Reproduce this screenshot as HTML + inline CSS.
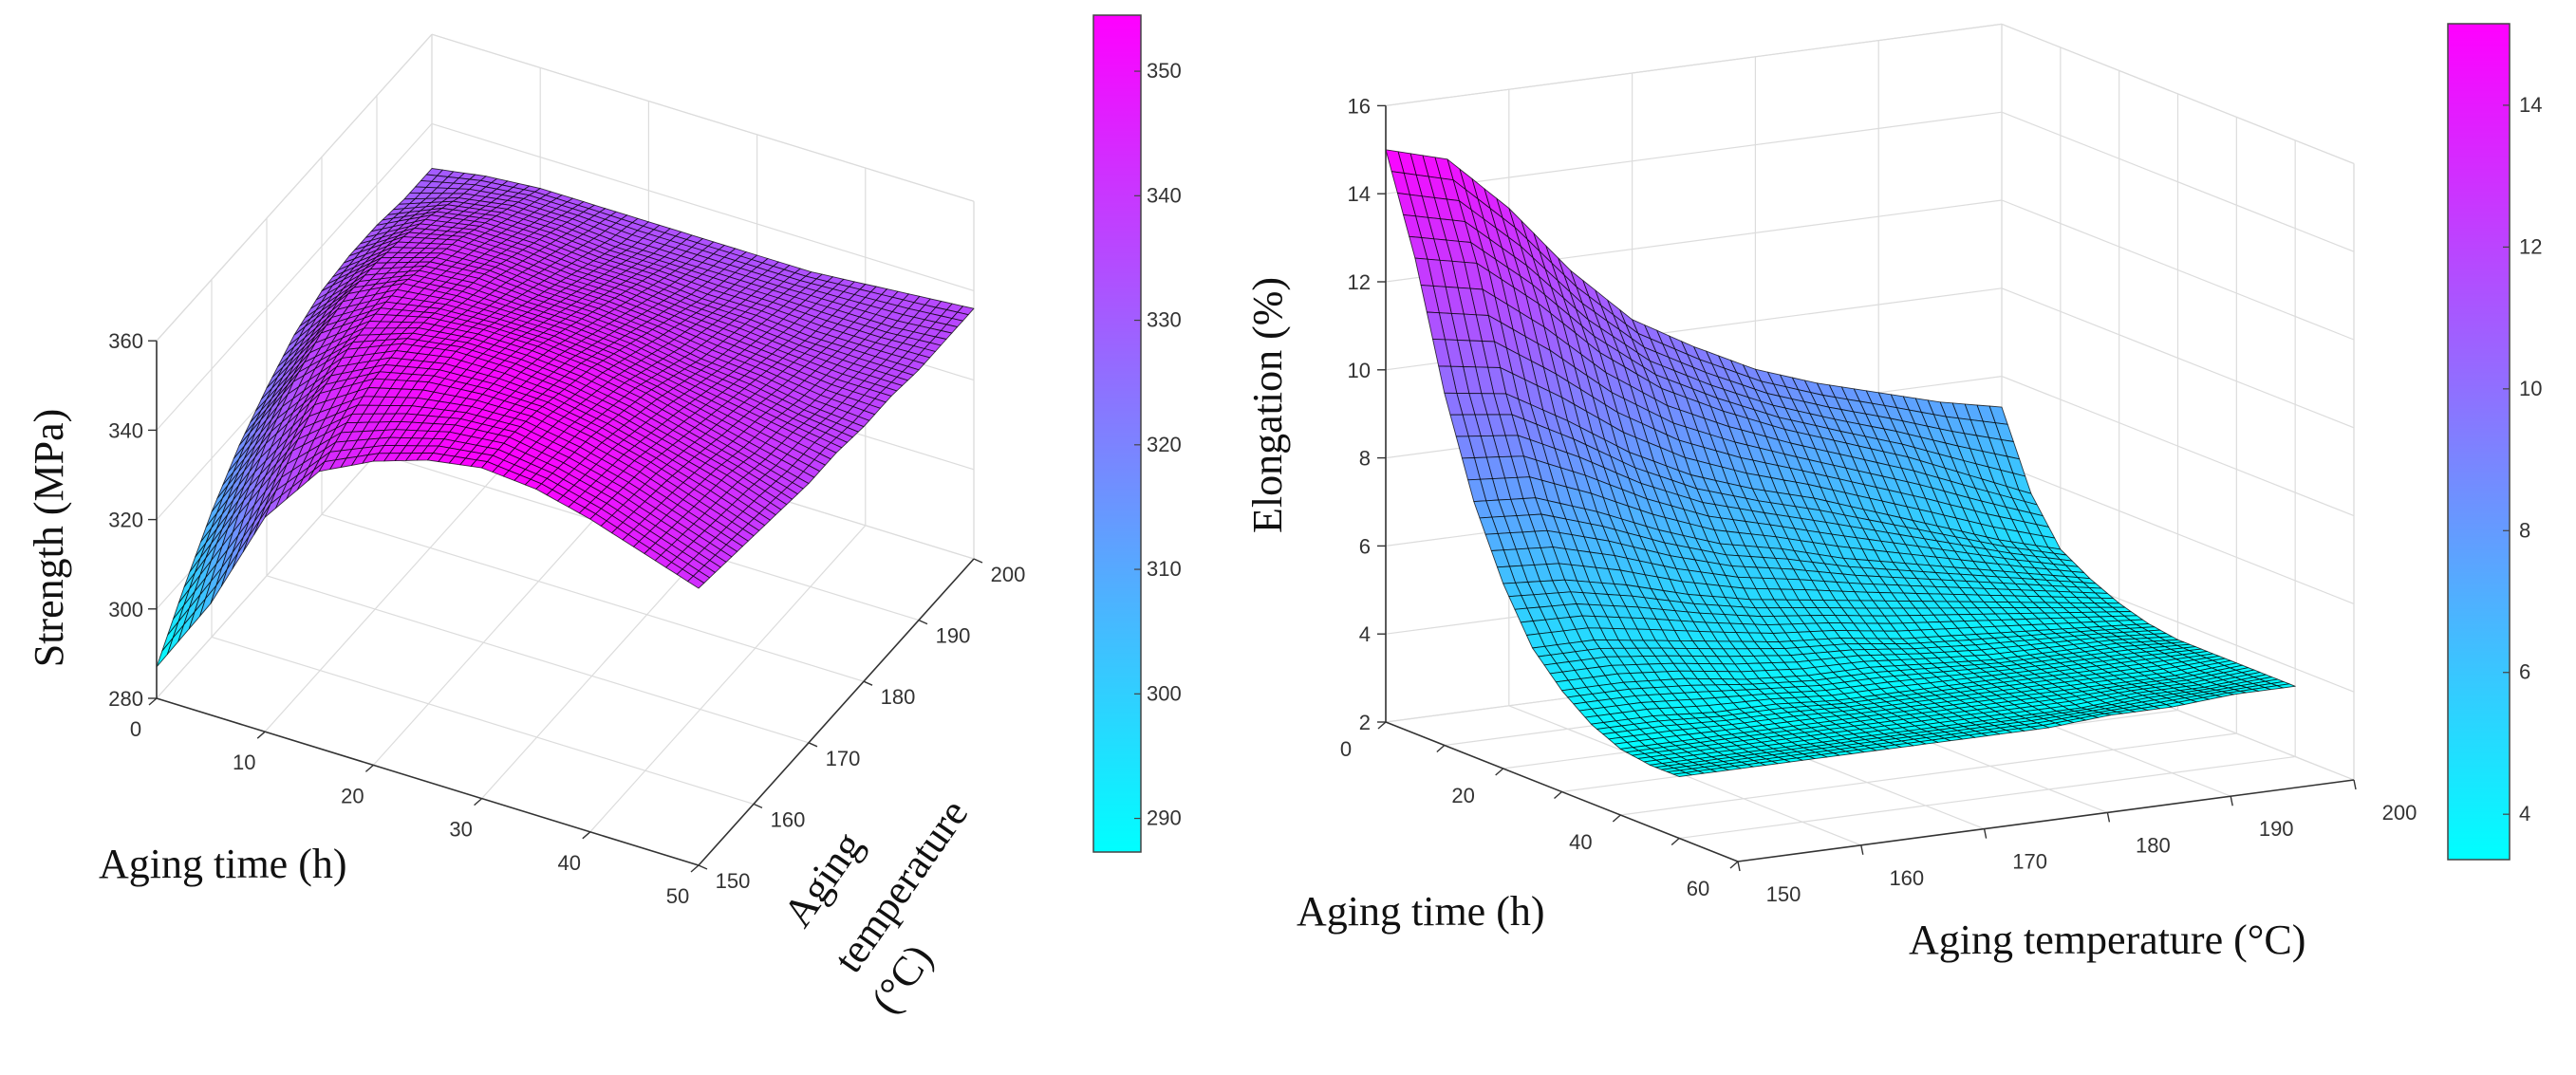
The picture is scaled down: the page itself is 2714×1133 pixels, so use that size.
<!DOCTYPE html>
<html><head><meta charset="utf-8"><style>
html,body{margin:0;padding:0;background:#fff}
svg{display:block}
.tick{font-family:"Liberation Sans",sans-serif;font-size:22px;fill:#333}
.title{font-family:"Liberation Serif",serif;font-size:44px;fill:#111}
</style></head><body>
<svg id="fig" width="2714" height="1133" viewBox="0 0 2714 1133" xmlns="http://www.w3.org/2000/svg">
<rect width="2714" height="1133" fill="#fff"/>
<g id="left"></g>
<g id="right"></g>
</svg>
<script>
// ---- Left chart data: strength (MPa), rows = temperature, cols = time
const leftTime = [0,5,10,15,20,25,30,35,40,45,50];
const leftTemp = [150,155,160,165,170,175,180,185,190,195,200];
const leftStrength = [
 [287,305,328,342,348,352,354,353,350,346,342],
 [298,318,336,346,350,353,354,352,349,345,341],
 [308,327,342,349,352,353,353,351,348,344,340],
 [316,334,345,350,352,352,351,349,346,343,339],
 [322,338,346,349,350,350,349,347,344,341,338],
 [327,340,346,347,347,347,346,344,342,340,338],
 [330,340,344,345,344,344,343,341,340,338,337],
 [331,339,342,342,341,341,340,339,338,337,337],
 [331,337,339,339,338,338,337,337,336,336,336],
 [330,334,336,336,335,335,335,335,335,335,336],
 [330,332,333,333,333,333,333,333,334,335,336]
];
const leftZTicks = [280,300,320,340,360];
const leftTimeTicks = [0,10,20,30,40,50];
const leftTempTicks = [150,160,170,180,190,200];
const leftCbTicks = [290,300,310,320,330,340,350];
const leftCRange = [287.3,354.5];

// ---- Right chart data: elongation (%), rows = temperature, cols = time
const rightTime = [0,5,10,15,20,25,30,35,40,45,50];
const rightTemp = [150,155,160,165,170,175,180,185,190,195,200];
const rightElong = [
 [15.0,12.8,10.0,7.8,6.2,5.0,4.3,3.8,3.5,3.4,3.4],
 [14.6,12.5,9.8,7.7,6.1,5.0,4.3,3.8,3.5,3.4,3.4],
 [13.3,11.4,9.0,7.2,5.8,4.8,4.2,3.7,3.5,3.4,3.4],
 [11.7,10.1,8.1,6.6,5.4,4.6,4.0,3.7,3.5,3.4,3.4],
 [10.4,9.1,7.4,6.1,5.1,4.4,3.9,3.6,3.5,3.4,3.4],
 [9.6,8.4,6.9,5.8,4.9,4.3,3.9,3.6,3.5,3.4,3.4],
 [8.9,7.8,6.5,5.4,4.7,4.1,3.8,3.6,3.5,3.4,3.4],
 [8.4,7.3,6.0,5.1,4.5,4.0,3.7,3.6,3.5,3.4,3.5],
 [8.0,6.8,5.5,4.8,4.3,3.9,3.7,3.6,3.5,3.5,3.5],
 [7.6,6.2,5.0,4.5,4.1,3.8,3.7,3.6,3.5,3.5,3.6],
 [7.3,5.6,4.6,4.2,3.9,3.7,3.6,3.6,3.6,3.6,3.6]
];
const rightZTicks = [2,4,6,8,10,12,14,16];
const rightTimeTicks = [0,10,20,30,40,50,60];
const rightTimeLabels = [0,20,40,60];
const rightTempTicks = [150,160,170,180,190,200];
const rightCbTicks = [4,6,8,10,12,14];
const rightCRange = [3.36,15.15];

const NS = "http://www.w3.org/2000/svg";
function mk(parent, tag, attrs){
  const e = document.createElementNS(NS, tag);
  for (const k in attrs) e.setAttribute(k, attrs[k]);
  parent.appendChild(e);
  return e;
}
function cool(v, lo, hi){
  let f = (v - lo) / (hi - lo); f = Math.max(0, Math.min(1, f));
  return `rgb(${Math.round(255*f)},${Math.round(255*(1-f))},255)`;
}

function buildChart(g, cfg){
  const P = cfg.proj;
  const [t0,t1] = cfg.tRange, [T0,T1] = cfg.TRange, [z0,z1] = cfg.zRange;
  const grid = "#dcdcdc";
  function line(a,b,stroke,w,name){
    const l = mk(g,'line',{x1:a[0],y1:a[1],x2:b[0],y2:b[1],stroke:stroke,'stroke-width':w});
    
    
    return l;
  }
  for (const T of cfg.TTicks){
    line(P(t0,T,z0),P(t0,T,z1),grid,1.2,'grid-line');
    line(P(t0,T,z0),P(t1,T,z0),grid,1.2,'grid-line');
  }
  for (const t of cfg.tTicks){
    line(P(t,T1,z0),P(t,T1,z1),grid,1.2,'grid-line');
    line(P(t,T0,z0),P(t,T1,z0),grid,1.2,'grid-line');
  }
  for (const z of cfg.zTicks){
    line(P(t0,T0,z),P(t0,T1,z),grid,1.2,'grid-line');
    line(P(t0,T1,z),P(t1,T1,z),grid,1.2,'grid-line');
  }
  line(P(t0,T0,z1),P(t0,T1,z1),grid,1.2,'box-edge');
  line(P(t0,T1,z1),P(t1,T1,z1),grid,1.2,'box-edge');
  line(P(t1,T1,z0),P(t1,T1,z1),grid,1.2,'box-edge');

  const times = cfg.times, temps = cfg.temps, vals = cfg.vals, sub = 5;
  function V(i,j,u,v){
    const a=vals[i][j], b=vals[i][j+1], c=vals[i+1][j], d=vals[i+1][j+1];
    return a*(1-u)*(1-v)+b*u*(1-v)+c*(1-u)*v+d*u*v;
  }
  const cells = [];
  for (let i=0;i<temps.length-1;i++) for (let j=0;j<times.length-1;j++){
    for (let a=0;a<sub;a++) for (let b=0;b<sub;b++){
      const us=[b/sub,(b+1)/sub], vs=[a/sub,(a+1)/sub];
      const corners=[[us[0],vs[0]],[us[1],vs[0]],[us[1],vs[1]],[us[0],vs[1]]];
      let sum=0, pts=[];
      for (const [u,v] of corners){
        const t = times[j]+(times[j+1]-times[j])*u;
        const T = temps[i]+(temps[i+1]-temps[i])*v;
        const z = V(i,j,u,v); sum += z;
        pts.push(P(t,T,z));
      }
      const tc = times[j]+(times[j+1]-times[j])*(b+0.5)/sub;
      const Tc = temps[i]+(temps[i+1]-temps[i])*(a+0.5)/sub;
      cells.push({pts, val:sum/4, depth:P(tc,Tc,z0)[1]});
    }
  }
  cells.sort((p,q)=>p.depth-q.depth);
  const sg = mk(g,'g',{});
  
  
  for (const c of cells){
    const poly = mk(sg,'polygon',{points:c.pts.map(p=>p[0].toFixed(1)+','+p[1].toFixed(1)).join(' '),
      fill:cool(c.val,cfg.cRange[0],cfg.cRange[1]),stroke:'#000','stroke-width':0.9,'stroke-opacity':0.75,'stroke-linejoin':'round'});
    
    
  }

  const ax = "#333";
  line(P(t0,T0,z0),P(t0,T0,z1),ax,1.6,'z-axis-line');
  line(P(t0,T0,z0),P(t1,T0,z0),ax,1.6,'time-axis-line');
  line(P(t1,T0,z0),P(t1,T1,z0),ax,1.6,'temperature-axis-line');
  for (const z of cfg.zTicks){
    const p = P(t0,T0,z);
    line(p,[p[0]-9,p[1]],ax,1.4,'z-tick');
    const tx = mk(g,'text',{x:p[0]-cfg.zLabelDx,y:p[1]+8,'text-anchor':'end',class:'tick'});
    tx.textContent = z;
    
    
  }
  for (const t of cfg.tTicks){
    const p = P(t,T0,z0);
    line(p,[p[0]-8,p[1]+7],ax,1.4,'time-tick');
  }
  for (let k=0;k<cfg.tLabels.length;k++){
    const t = cfg.tLabels[k], p = P(t,T0,z0);
    const tx = mk(g,'text',{x:p[0]+cfg.tLabelOff[0],y:p[1]+cfg.tLabelOff[1],'text-anchor':'middle',class:'tick'});
    tx.textContent = t;
    
    
  }
  for (const T of cfg.TTicks){
    const p = P(t1,T,z0);
    line(p,[p[0]+cfg.TTickDir[0],p[1]+cfg.TTickDir[1]],ax,1.4,'temperature-tick');
    const tx = mk(g,'text',{x:p[0]+cfg.TLabelOff[0],y:p[1]+cfg.TLabelOff[1],'text-anchor':'middle',class:'tick'});
    tx.textContent = T;
    
    
  }

  const cb = cfg.cb;
  const gid = 'grad'+cfg.id;
  const defs = mk(g,'defs',{});
  const lg = mk(defs,'linearGradient',{id:gid,x1:0,y1:1,x2:0,y2:0});
  mk(lg,'stop',{offset:0,'stop-color':'rgb(0,255,255)'});
  mk(lg,'stop',{offset:1,'stop-color':'rgb(255,0,255)'});
  const cr = mk(g,'rect',{x:cb.x,y:cb.y,width:cb.w,height:cb.h,fill:`url(#${gid})`,stroke:'#444','stroke-width':1.5});
  
  
  for (const v of cfg.cbTicks){
    const y = cb.y + cb.h - (v-cfg.cRange[0])/(cfg.cRange[1]-cfg.cRange[0])*cb.h;
    line([cb.x+cb.w-7,y],[cb.x+cb.w,y],'#444',1.2,'colorbar-tick');
    const tx = mk(g,'text',{x:cb.x+cb.w+cfg.cbLabelDx,y:y+7,class:'tick','font-size':cfg.cbFont});
    tx.textContent = v;
    
    
  }
}

buildChart(document.getElementById('left'), {
  id:'L',
  proj:(t,T,z)=>[165 + t/50*571 + (T-150)/50*290, 736 + t/50*176 - (T-150)/50*323 - (z-280)*4.71],
  tRange:[0,50], TRange:[150,200], zRange:[280,360],
  times:leftTime, temps:leftTemp, vals:leftStrength,
  zTicks:leftZTicks, tTicks:leftTimeTicks, tLabels:leftTimeTicks, TTicks:leftTempTicks,
  zLabelDx:14, tLabelOff:[-22,40], TTickDir:[9,4], TLabelOff:[36,24],
  cRange:leftCRange, cbTicks:leftCbTicks, cb:{x:1152,y:16,w:50,h:882}, cbLabelDx:6, cbFont:18
});
buildChart(document.getElementById('right'), {
  id:'R',
  proj:(t,T,z)=>[1460 + t/60*371 + (T-150)/50*649, 761 + t/60*147 - (T-150)/50*86 - (z-2)*46.4],
  tRange:[0,60], TRange:[150,200], zRange:[2,16],
  times:rightTime, temps:rightTemp, vals:rightElong,
  zTicks:rightZTicks, tTicks:rightTimeTicks, tLabels:rightTimeLabels, TTicks:rightTempTicks,
  zLabelDx:16, tLabelOff:[-42,36], TTickDir:[2,10], TLabelOff:[48,42],
  cRange:rightCRange, cbTicks:rightCbTicks, cb:{x:2579,y:25,w:65,h:881}, cbLabelDx:10, cbFont:24
});
</script>
<div style="position:absolute;left:0;top:0;width:2714px;height:1133px;pointer-events:none">
<svg width="2714" height="1133" xmlns="http://www.w3.org/2000/svg">
<text class="title" transform="translate(66,567) rotate(-90)" text-anchor="middle">Strength  (MPa)</text>
<text class="title" x="104" y="925">Aging time (h)</text>
<text class="title" transform="translate(879,935) rotate(-55)" text-anchor="middle">Aging</text>
<text class="title" transform="translate(961,942) rotate(-55)" text-anchor="middle">temperature</text>
<text class="title" transform="translate(962,1040) rotate(-55)" text-anchor="middle">(°C)</text>
<text class="title" transform="translate(1350,427) rotate(-90)" text-anchor="middle">Elongation  (%)</text>
<text class="title" x="1366" y="975">Aging time (h)</text>
<text class="title" x="2011" y="1005">Aging  temperature  (°C)</text>
</svg>
</div>
</body></html>
